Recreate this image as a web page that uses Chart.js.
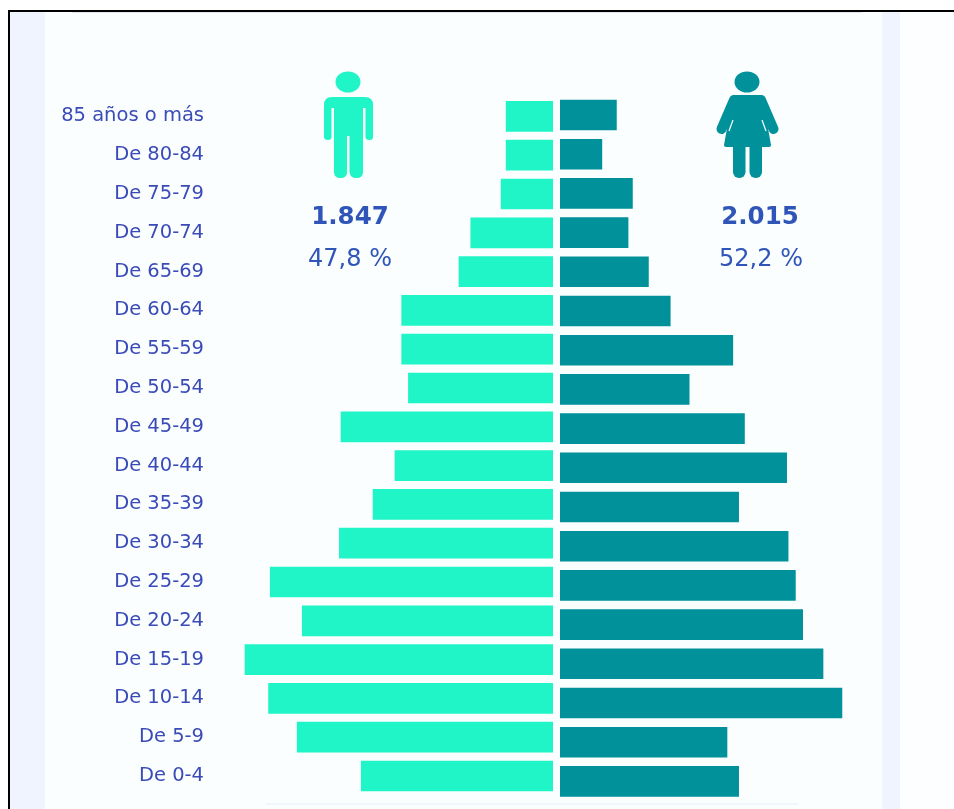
<!DOCTYPE html>
<html lang="es">
<head>
<meta charset="utf-8">
<script src="https://cdn.jsdelivr.net/npm/chart.js@4"></script>
<style>
html,body{margin:0;padding:0;background:#fff;}
#page{position:relative;width:954px;height:809px;overflow:hidden;background:#fff;font-family:"DejaVu Sans",sans-serif;}
.abs{position:absolute;}
canvas{position:absolute;filter:blur(0.45px);}
svg{filter:blur(0.45px);}
.num{position:absolute;transform:translate(-50%,-50%);white-space:nowrap;color:#2f55b8;filter:blur(0.4px);}
</style>
</head>
<body>
<div id="page">
  <div class="abs" style="left:10px;top:12px;width:890px;height:797px;background:#eff4ff"></div>
  <div class="abs" style="left:45px;top:12px;width:837px;height:797px;background:#fbfeff"></div>
  <div class="abs" style="left:900px;top:12px;width:54px;height:797px;background:#fcfeff"></div>
  <div class="abs" style="left:72px;top:11px;width:790px;height:2px;background:#dfe4ef"></div>
  <div class="abs" style="left:266px;top:803px;width:532px;height:2px;background:#f1f5fd"></div>
  <div class="abs" style="left:8px;top:10px;width:946px;height:2px;background:#000"></div>
  <div class="abs" style="left:8px;top:10px;width:2px;height:799px;background:#000"></div>
  <canvas id="men" style="left:0;top:0" width="556" height="809"></canvas>
  <canvas id="women" style="left:556px;top:0" width="398" height="809"></canvas>
  <svg class="abs" style="left:0;top:0" width="954" height="809">
    <ellipse cx="348" cy="82" rx="12.5" ry="10.5" fill="#1ff5c7"/>
    <path fill="#1ff5c7" d="M332 97H365Q373 97 373 105V137Q373 140 369.5 140Q365.5 140 365.5 137V108H363V172Q363 178 356.5 178Q350 178 349.5 172V136H347V172Q347 178 340.5 178Q334 178 334 172V108H331.5V137Q331.5 140 328 140Q324 140 324 137V105Q324 97 332 97Z"/>
    <ellipse cx="747" cy="82" rx="12.5" ry="10.5" fill="#00919a"/>
    <g stroke="#00919a" stroke-width="10" stroke-linecap="round">
      <line x1="734" y1="100" x2="721.5" y2="129"/>
      <line x1="761" y1="100" x2="773.5" y2="129"/>
    </g>
    <path fill="#00919a" d="M733 95H762L771 145Q771 147 769 147H726Q724 147 724 145Z"/>
    <path stroke="#fbfeff" stroke-width="1.2" fill="none" d="M733 120L729 131M762 120L766 131"/>
    <rect x="733" y="140" width="12.5" height="38" rx="6" fill="#00919a"/>
    <rect x="749.5" y="140" width="12.5" height="38" rx="6" fill="#00919a"/>
  </svg>
  <div class="num" id="menTotal" style="left:350px;top:215px;font-size:24.5px;font-weight:700"></div>
  <div class="num" id="menShare" style="left:350px;top:257.5px;font-size:24px;font-weight:400"></div>
  <div class="num" id="womenTotal" style="left:760px;top:215px;font-size:24.5px;font-weight:700"></div>
  <div class="num" id="womenShare" style="left:761px;top:257.5px;font-size:24px;font-weight:400"></div>
</div>
<script>
const ageGroups = ["85 años o más","De 80-84","De 75-79","De 70-74","De 65-69","De 60-64","De 55-59","De 50-54","De 45-49","De 40-44","De 35-39","De 30-34","De 25-29","De 20-24","De 15-19","De 10-14","De 5-9","De 0-4"];
const men = [28,28,31,49,56,90,90,86,126,94,107,127,168,149,183,169,152,114];
const women = [39,29,50,47,61,76,119,89,127,156,123,157,162,167,181,194,115,123];
const menTotal = "1.847", menShare = "47,8 %";
const womenTotal = "2.015", womenShare = "52,2 %";

document.getElementById("menTotal").textContent = menTotal;
document.getElementById("menShare").textContent = menShare;
document.getElementById("womenTotal").textContent = womenTotal;
document.getElementById("womenShare").textContent = womenShare;

Chart.defaults.animation = false;
Chart.defaults.responsive = false;
Chart.defaults.plugins.legend.display = false;
Chart.defaults.plugins.tooltip.enabled = false;

new Chart(document.getElementById("men"), {
  type: "bar",
  data: { labels: ageGroups, datasets: [{ label: "Hombres", data: men, backgroundColor: "#1ff5c7", categoryPercentage: 1, barPercentage: 0.79 }] },
  options: {
    indexAxis: "y",
    layout: { padding: { top: 97, bottom: 13.6, left: 0, right: 3 } },
    scales: {
      x: { display: false, reverse: true, min: 0, max: 200 },
      y: {
        afterFit(s) { s.width = 216; s.paddingTop = 0; s.paddingBottom = 0; },
        grid: { display: false, drawTicks: false },
        border: { display: false },
        ticks: { color: "#3a4bb8", padding: 12, autoSkip: false, font: { family: "DejaVu Sans", size: 19.5 } }
      }
    }
  }
});

new Chart(document.getElementById("women"), {
  type: "bar",
  data: { labels: ageGroups, datasets: [{ label: "Mujeres", data: women, backgroundColor: "#00919a", categoryPercentage: 1, barPercentage: 0.78 }] },
  options: {
    indexAxis: "y",
    layout: { padding: { top: 95.4, bottom: 8, left: 4, right: 103 } },
    scales: {
      x: { display: false, min: 0, max: 200 },
      y: { display: false }
    }
  }
});
</script>
</body>
</html>
